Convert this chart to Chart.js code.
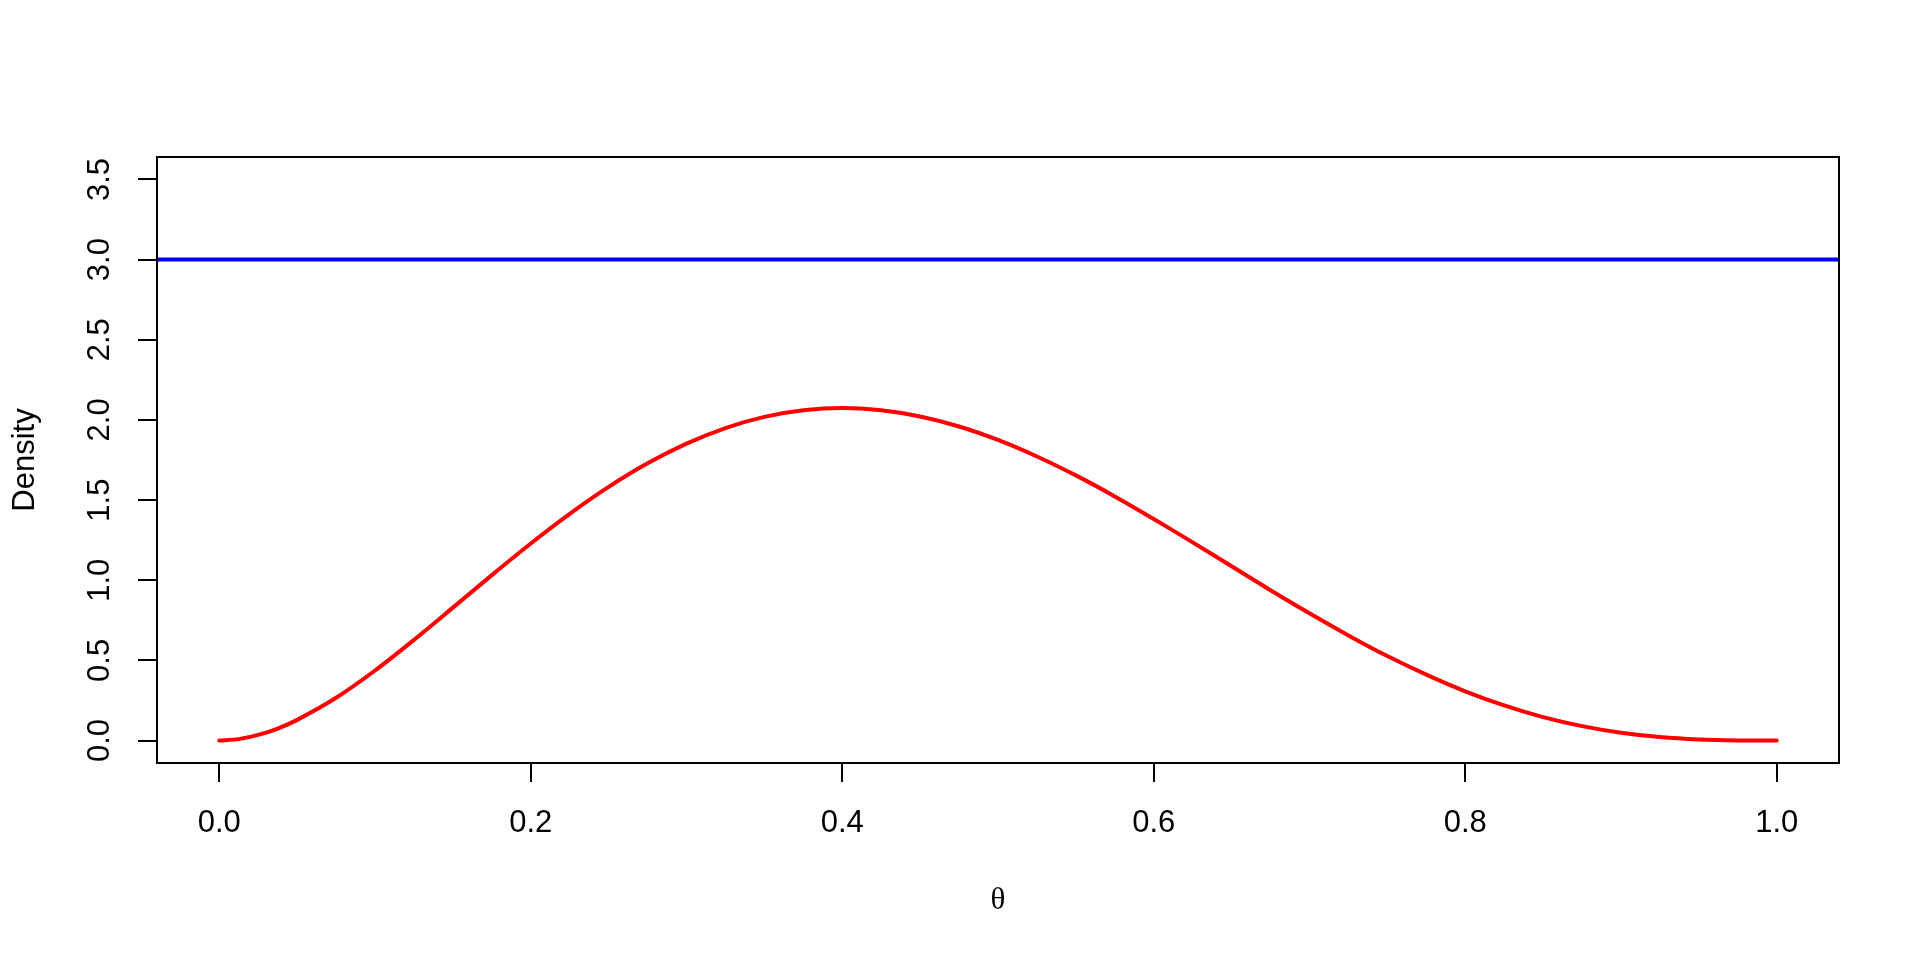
<!DOCTYPE html>
<html><head><meta charset="utf-8">
<script src="https://cdn.jsdelivr.net/npm/chart.js@4/dist/chart.umd.min.js"></script>
<style>html,body{margin:0;padding:0;background:#fff}canvas{display:block}</style>
</head><body>
<canvas id="c" width="1920" height="960"></canvas>
<script>
// Data
const thetaValues = [0, 0.0125, 0.025, 0.0375, 0.05, 0.075, 0.1, 0.125, 0.15, 0.175, 0.2, 0.225, 0.25, 0.275, 0.3, 0.325, 0.35, 0.375, 0.4, 0.425, 0.45, 0.475, 0.5, 0.525, 0.55, 0.575, 0.6, 0.625, 0.65, 0.675, 0.7, 0.725, 0.75, 0.775, 0.8, 0.825, 0.85, 0.875, 0.9, 0.925, 0.95, 0.975, 1];
const posteriorDensity = [0, 0.009, 0.035, 0.075, 0.129, 0.267, 0.437, 0.628, 0.829, 1.032, 1.229, 1.414, 1.582, 1.729, 1.852, 1.949, 2.019, 2.060, 2.074, 2.060, 2.021, 1.959, 1.875, 1.772, 1.654, 1.523, 1.382, 1.236, 1.087, 0.938, 0.794, 0.656, 0.527, 0.411, 0.307, 0.219, 0.146, 0.090, 0.049, 0.022, 0.007, 0.001, 0];
const priorDensity = 3.0;
const xTicks = [0.0, 0.2, 0.4, 0.6, 0.8, 1.0];
const yTicks = [0.0, 0.5, 1.0, 1.5, 2.0, 2.5, 3.0, 3.5];
const xLimits = [-0.04, 1.04];
const yLimits = [-0.14, 3.64];
const xTitle = 'θ';
const yTitle = 'Density';

Chart.defaults.color = '#000';
Chart.defaults.font.family = "'Liberation Sans', Arial, sans-serif";

const boxPlugin = {
  id: 'box',
  afterDraw(chart) {
    const a = chart.chartArea, ctx = chart.ctx;
    ctx.save();
    ctx.strokeStyle = '#000';
    ctx.lineWidth = 2;
    ctx.strokeRect(a.left, a.top, a.right - a.left, a.bottom - a.top);
    ctx.restore();
  }
};

new Chart(document.getElementById('c'), {
  type: 'line',
  data: {
    datasets: [
      {
        data: xLimits.map(x => ({x: x, y: priorDensity})),
        borderColor: '#0000FF',
        borderWidth: 4,
        pointRadius: 0,
        clip: 0
      },
      {
        data: thetaValues.map((t, i) => ({x: t, y: posteriorDensity[i]})),
        borderColor: '#FF0000',
        borderWidth: 4,
        pointRadius: 0,
        tension: 0.3,
        borderCapStyle: 'round',
        borderJoinStyle: 'round'
      }
    ]
  },
  options: {
    responsive: false,
    animation: false,
    events: [],
    layout: {padding: {top: 157, right: 81, left: 0, bottom: 0}},
    plugins: {legend: {display: false}, tooltip: {enabled: false}},
    scales: {
      x: {
        type: 'linear',
        min: xLimits[0],
        max: xLimits[1],
        afterBuildTicks: s => { s.ticks = xTicks.map(v => ({value: v})); },
        afterFit: s => { s.height = 197; },
        grid: {drawOnChartArea: false, drawTicks: true, tickLength: 19, color: '#000', lineWidth: 2},
        border: {display: false},
        ticks: {
          autoSkip: false, maxRotation: 0, minRotation: 0, padding: 23,
          font: {size: 31}, color: '#000',
          callback: v => Number(v).toFixed(1)
        },
        title: {
          display: true, text: xTitle, color: '#000',
          font: {family: "'Liberation Serif', 'Times New Roman', serif", size: 31},
          padding: {top: 0, bottom: 41}
        }
      },
      y: {
        type: 'linear',
        min: yLimits[0],
        max: yLimits[1],
        afterBuildTicks: s => { s.ticks = yTicks.map(v => ({value: v})); },
        afterFit: s => { s.width = 157; },
        grid: {drawOnChartArea: false, drawTicks: true, tickLength: 19, color: '#000', lineWidth: 2},
        border: {display: false},
        ticks: {
          autoSkip: false, minRotation: 90, maxRotation: 90, crossAlign: 'center', padding: 16,
          font: {size: 31}, color: '#000',
          callback: v => Number(v).toFixed(1)
        },
        title: {
          display: true, text: yTitle, color: '#000',
          font: {size: 31},
          padding: {top: 7, bottom: 0}
        }
      }
    }
  },
  plugins: [boxPlugin]
});
</script>
</body></html>
